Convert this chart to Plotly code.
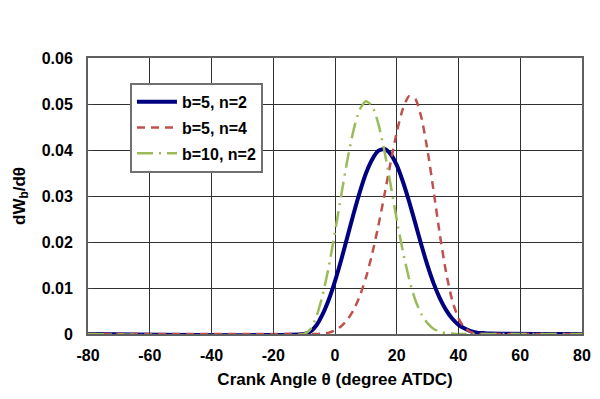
import plotly.graph_objects as go

angle = [-80, -10, -8, -6, -4, -2, 0, 2, 4, 6, 8, 10, 12, 14, 16, 18, 20, 22, 24, 26,
         28, 30, 32, 34, 36, 38, 40, 42, 44, 46, 48, 50, 80]

b5_n2 = [0, 0, 0.0005, 0.0019, 0.0043, 0.0075, 0.0115, 0.0161, 0.0211, 0.0261, 0.0308,
         0.0349, 0.0379, 0.0398, 0.0402, 0.0391, 0.0367, 0.0331, 0.0288, 0.0241, 0.0193,
         0.0148, 0.0109, 0.0077, 0.0052, 0.0033, 0.0020, 0.0012, 0.0006, 0.0003, 0.0002,
         0.0001, 0]

b5_n4 = [0, 0, 0, 0, 0.0001, 0.0003, 0.0008, 0.0017, 0.0031, 0.0052, 0.0082, 0.0122,
         0.0173, 0.0234, 0.0302, 0.0373, 0.0439, 0.0490, 0.0517, 0.0511, 0.0470, 0.0398,
         0.0308, 0.0214, 0.0133, 0.0072, 0.0034, 0.0013, 0.0004, 0.0001, 0, 0, 0]

b10_n2 = [0, 0, 0.0010, 0.0038, 0.0085, 0.0147, 0.0222, 0.0301, 0.0378, 0.0443, 0.0488,
          0.0506, 0.0496, 0.0458, 0.0398, 0.0325, 0.0249, 0.0179, 0.0120, 0.0074, 0.0043,
          0.0023, 0.0011, 0.0005, 0.0002, 0.0001, 0, 0, 0, 0, 0, 0, 0]

series_names = ["b=5, n=2", "b=5, n=4", "b=10, n=2"]

x_ticks = [-80, -60, -40, -20, 0, 20, 40, 60, 80]
x_tick_labels = ["-80", "-60", "-40", "-20", "0", "20", "40", "60", "80"]
y_ticks = [0, 0.01, 0.02, 0.03, 0.04, 0.05, 0.06]
y_tick_labels = ["0", "0.01", "0.02", "0.03", "0.04", "0.05", "0.06"]

FONT = "Liberation Sans, Arial, sans-serif"

fig = go.Figure()
fig.add_trace(go.Scatter(x=angle, y=b5_n2, name=series_names[0], mode="lines", legendgroup="g1",
                         line=dict(color="#000080", width=4, shape="spline", smoothing=0.6),
                         cliponaxis=False))
fig.add_trace(go.Scatter(x=angle, y=b5_n4, name=series_names[1], mode="lines", legendgroup="g2",
                         line=dict(color="#C0504D", width=2.5, dash="8px,6px", shape="spline", smoothing=0.6),
                         cliponaxis=False))
fig.add_trace(go.Scatter(x=angle, y=b10_n2, name=series_names[2], mode="lines", legendgroup="g3",
                         line=dict(color="#9BBB59", width=2.5, dash="16px,6px,2px,6px", shape="spline", smoothing=0.6),
                         cliponaxis=False))

fig.update_layout(
    width=592, height=391,
    margin=dict(l=80, r=18, t=50, b=65, autoexpand=False),
    paper_bgcolor="white", plot_bgcolor="white",
    font=dict(family=FONT, size=16, color="black", weight="bold"),
    showlegend=True,
    legend=dict(x=0.085, y=0.91, xanchor="left", yanchor="top",
                bgcolor="white", bordercolor="#707070", borderwidth=2,
                font=dict(family=FONT, size=16, color="black", weight="bold"),
                itemwidth=40, tracegroupgap=2),
)
fig.update_xaxes(
    range=[-80, 80], tickvals=x_ticks, ticktext=x_tick_labels,
    ticks="inside", ticklen=4, tickcolor="#404040", ticklabelstandoff=6,
    showgrid=True, gridcolor="#303030", gridwidth=1,
    showline=True, linecolor="#606060", linewidth=2, mirror=True,
    zeroline=False, automargin=False,
    title=dict(text="Crank Angle θ (degree ATDC)", standoff=10,
               font=dict(family=FONT, size=17, color="black", weight="bold")),
    tickfont=dict(family=FONT, size=16, color="black", weight="bold"),
)
fig.update_yaxes(
    range=[0, 0.06], tickvals=y_ticks, ticktext=y_tick_labels,
    ticks="inside", ticklen=4, tickcolor="#404040", ticklabelstandoff=10,
    showgrid=True, gridcolor="#303030", gridwidth=1,
    showline=True, linecolor="#606060", linewidth=2, mirror=True,
    zeroline=False, automargin=False,
    title=dict(text="dW<sub>b</sub>/dθ", standoff=12,
               font=dict(family=FONT, size=17, color="black", weight="bold")),
    tickfont=dict(family=FONT, size=16, color="black", weight="bold"),
)

fig.write_html("out.html")
